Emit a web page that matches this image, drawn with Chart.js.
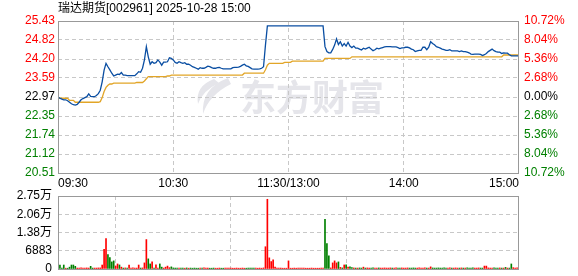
<!DOCTYPE html>
<html>
<head>
<meta charset="utf-8">
<script src="https://cdn.jsdelivr.net/npm/chart.js@4/dist/chart.umd.min.js"></script>
<style>
  body { margin: 0; background: #fff; }
  #wrap { position: relative; width: 578px; height: 276px; }
  #priceBox { position: absolute; left: 0; top: 0; width: 578px; height: 189px; }
  #volBox { position: absolute; left: 0; top: 189px; width: 578px; height: 87px; }
</style>
</head>
<body>
<div id="wrap">
  <div id="priceBox"><canvas id="priceChart"></canvas></div>
  <div id="volBox"><canvas id="volChart"></canvas></div>
</div>
<script>
const title = '瑞达期货[002961] 2025-10-28 15:00';
const prevClose = 22.97;

const timeTicks = [0, 60, 120, 180, 240];
const timeLabels = ['09:30', '10:30', '11:30/13:00', '14:00', '15:00'];

const priceTicks = [20.51, 21.12, 21.74, 22.35, 22.97, 23.59, 24.20, 24.82, 25.43];
const pctLabels = ['10.72%', '8.04%', '5.36%', '2.68%', '0.00%', '2.68%', '5.36%', '8.04%', '10.72%'];

const volTicks = [0, 6883, 13766, 20649, 27532];
const volLabels = ['0', '6883', '1.38万', '2.06万', '2.75万'];

// one value per minute, 09:30 .. 15:00
const price = [
  22.97, 22.93, 22.90, 22.88, 22.88, 22.85, 22.80, 22.75, 22.72, 22.71,
  22.73, 22.80, 22.88, 22.92, 22.95, 22.98, 23.07, 22.99, 22.98, 22.98,
  23.02, 23.08, 23.19, 23.46, 23.84, 24.06, 23.95, 23.85, 23.74, 23.65,
  23.68, 23.71, 23.70, 23.76, 23.68, 23.68, 23.66, 23.66, 23.66, 23.66,
  23.66, 23.72, 23.79, 23.77, 23.90, 24.17, 24.60, 24.27, 24.03, 24.11,
  24.06, 24.08, 24.17, 24.10, 24.00, 24.10, 24.10, 24.11, 24.24, 24.22,
  24.17, 24.09, 24.06, 24.11, 24.08, 24.06, 24.08, 24.03, 24.03, 24.00,
  23.95, 23.93, 23.90, 23.87, 23.92, 23.90, 23.90, 23.93, 23.97, 23.95,
  23.92, 23.90, 23.90, 23.92, 23.93, 23.90, 23.88, 23.88, 23.88, 23.88,
  23.88, 23.92, 23.93, 23.93, 23.94, 23.96, 24.00, 24.03, 23.98, 23.96,
  23.92, 23.88, 23.87, 23.87, 23.87, 23.88, 23.90, 23.95, 24.65, 25.27,
  25.27, 25.27, 25.27, 25.27, 25.27, 25.27, 25.27, 25.27, 25.27, 25.27,
  25.27, 25.27, 25.27, 25.27, 25.27, 25.27, 25.27, 25.27, 25.27, 25.27,
  25.27, 25.27, 25.27, 25.27, 25.27, 25.27, 25.27, 25.27, 25.27,
  24.60, 24.44, 24.40, 24.40, 24.51, 24.65, 24.85, 24.67, 24.76, 24.62,
  24.70, 24.62, 24.74, 24.62, 24.57, 24.62, 24.55, 24.55, 24.52, 24.49,
  24.55, 24.52, 24.55, 24.58, 24.52, 24.47, 24.50, 24.55, 24.53, 24.55,
  24.57, 24.59, 24.60, 24.60, 24.60, 24.59, 24.59, 24.59, 24.57, 24.54,
  24.56, 24.56, 24.58, 24.58, 24.56, 24.52, 24.50, 24.44, 24.46, 24.48,
  24.48, 24.58, 24.58, 24.50, 24.58, 24.76, 24.70, 24.66, 24.60, 24.58,
  24.55, 24.52, 24.50, 24.48, 24.48, 24.50, 24.46, 24.46, 24.46, 24.46,
  24.44, 24.46, 24.44, 24.44, 24.42, 24.40, 24.36, 24.35, 24.36, 24.36,
  24.36, 24.35, 24.31, 24.34, 24.38, 24.44, 24.48, 24.52, 24.47, 24.44,
  24.42, 24.42, 24.38, 24.40, 24.39, 24.39, 24.34, 24.30, 24.30, 24.30,
  24.30, 24.30
];

const avgPrice = [
  22.93, 22.93, 22.93, 22.93, 22.93, 22.93, 22.86, 22.86, 22.86, 22.80,
  22.80, 22.80, 22.80, 22.80, 22.80, 22.80, 22.80, 22.80, 22.80, 22.80,
  22.80, 22.80, 22.82, 22.95, 23.15, 23.28, 23.35, 23.39, 23.39, 23.42,
  23.42, 23.42, 23.42, 23.42, 23.42, 23.42, 23.42, 23.42, 23.42, 23.42,
  23.42, 23.44, 23.44, 23.44, 23.44, 23.49, 23.56, 23.63, 23.63, 23.63,
  23.63, 23.63, 23.63, 23.63, 23.63, 23.63, 23.63, 23.65, 23.65, 23.68,
  23.68, 23.68, 23.68, 23.68, 23.68, 23.68, 23.68, 23.68, 23.68, 23.68,
  23.68, 23.68, 23.68, 23.68, 23.68, 23.68, 23.68, 23.68, 23.68, 23.68,
  23.68, 23.68, 23.68, 23.68, 23.68, 23.68, 23.68, 23.68, 23.68, 23.68,
  23.68, 23.68, 23.68, 23.68, 23.68, 23.68, 23.68, 23.74, 23.74, 23.74,
  23.74, 23.74, 23.74, 23.74, 23.74, 23.74, 23.74, 23.74, 23.85, 24.00,
  24.06, 24.06, 24.06, 24.06, 24.06, 24.06, 24.06, 24.06, 24.09, 24.09,
  24.09, 24.09, 24.13, 24.13, 24.13, 24.13, 24.13, 24.13, 24.13, 24.13,
  24.13, 24.13, 24.13, 24.13, 24.13, 24.13, 24.13, 24.13, 24.13, 24.22,
  24.22, 24.22, 24.22, 24.22, 24.22, 24.22, 24.22, 24.22, 24.22, 24.22,
  24.22, 24.22, 24.22, 24.27, 24.27, 24.27, 24.27, 24.27, 24.27, 24.27,
  24.27, 24.27, 24.27, 24.27, 24.27, 24.27, 24.27, 24.27, 24.27, 24.27,
  24.27, 24.27, 24.27, 24.27, 24.27, 24.27, 24.27, 24.27, 24.27, 24.27,
  24.27, 24.27, 24.27, 24.27, 24.27, 24.27, 24.27, 24.27, 24.27, 24.27,
  24.27, 24.27, 24.27, 24.27, 24.27, 24.27, 24.27, 24.27, 24.27, 24.27,
  24.27, 24.27, 24.27, 24.27, 24.27, 24.27, 24.27, 24.27, 24.27, 24.27,
  24.27, 24.27, 24.27, 24.27, 24.27, 24.27, 24.27, 24.27, 24.27, 24.27,
  24.27, 24.27, 24.27, 24.27, 24.27, 24.27, 24.27, 24.27, 24.27, 24.27,
  24.27, 24.27, 24.33, 24.33, 24.33, 24.33, 24.33, 24.33, 24.33, 24.33,
  24.33
];

const volume = [
  800, 1500, 300, 1500, 300, 300, 700, 1500, 1500, 1000,
  350, 350, 400, 350, 350, 400, 350, 1000, 350, 350,
  350, 400, 400, 1500, 7400, 11470, 5480, 4330, 2680, 3060,
  1150, 1910, 1530, 700, 350, 400, 350, 1500, 350, 400,
  350, 350, 1500, 350, 400, 2300, 11100, 3820, 1910, 2680,
  350, 1530, 350, 1910, 700, 350, 700, 1100, 500, 800,
  400, 350, 300, 350, 300, 350, 300, 400, 300, 350,
  300, 350, 300, 300, 350, 300, 400, 300, 350, 300,
  300, 350, 300, 300, 350, 300, 300, 350, 300, 300,
  350, 300, 300, 350, 300, 300, 350, 300, 300, 350,
  300, 300, 350, 300, 300, 350, 300, 400, 8400, 26300,
  4200, 2800, 3440, 700, 300, 300, 350, 300, 300, 300,
  3060, 300, 300, 350, 300, 300, 300, 300, 350, 300,
  300, 300, 350, 300, 300, 300, 300, 350, 300, 18700,
  9550, 4970, 400, 2300, 3060, 2300, 2680, 600, 400, 1530,
  1530, 700, 800, 500, 400, 350, 350, 400, 350, 700,
  350, 400, 350, 350, 400, 350, 350, 400, 350, 350,
  400, 350, 350, 400, 350, 350, 400, 350, 350, 400,
  350, 350, 400, 350, 350, 400, 350, 350, 400, 350,
  350, 400, 350, 350, 800, 400, 350, 350, 400, 350,
  350, 400, 350, 350, 400, 350, 350, 400, 350, 350,
  400, 350, 350, 400, 350, 350, 400, 350, 350, 400,
  350, 350, 1100, 1100, 400, 350, 350, 400, 350, 350,
  400, 350, 350, 600, 350, 350, 1900, 500, 350, 400,
  2300
];

const RED = '#ff0000';
const GREEN = '#008000';
const GRID = '#c8c8c8';
const font = { family: "'Liberation Sans', 'Noto Sans CJK SC', sans-serif", size: 12 };

const upDownColor = (v) => v > prevClose + 1e-6 ? RED : (v < prevClose - 1e-6 ? GREEN : '#000');

// red when the minute closed at or above the previous one
const volColors = volume.map((v, i) => {
  const before = i === 0 ? prevClose : price[i - 1];
  return price[i] >= before ? RED : GREEN;
});

const innerGrid = (ctx) => (ctx.index === 0 || ctx.index === timeTicks.length - 1) ? 'transparent' : GRID;

const frame = {
  id: 'frame',
  afterDraw(chart) {
    const { ctx, chartArea: a } = chart;
    ctx.save();
    ctx.strokeStyle = '#999';
    ctx.lineWidth = 1;
    ctx.strokeRect(Math.round(a.left) + 0.5, Math.round(a.top) + 0.5,
      Math.round(a.right - a.left) - 1, Math.round(a.bottom - a.top));
    ctx.restore();
  }
};

const watermark = {
  id: 'watermark',
  beforeDraw(chart) {
    const ctx = chart.ctx;
    ctx.save();
    ctx.fillStyle = '#e5e5ea';
    ctx.beginPath();
    ctx.moveTo(228, 78);
    ctx.quadraticCurveTo(201, 88, 203, 114);
    ctx.quadraticCurveTo(209, 95, 231, 84);
    ctx.closePath();
    ctx.fill();
    ctx.beginPath();
    ctx.moveTo(214, 79);
    ctx.quadraticCurveTo(195, 86, 198, 104);
    ctx.quadraticCurveTo(202, 91, 219, 83);
    ctx.closePath();
    ctx.fill();
    ctx.font = "bold 36px 'Noto Sans CJK SC'";
    ctx.textBaseline = 'middle';
    ctx.fillText('东方财富', 240, 97);
    ctx.restore();
  }
};

const heading = {
  id: 'heading',
  afterDraw(chart) {
    const ctx = chart.ctx;
    ctx.save();
    ctx.fillStyle = '#000';
    ctx.font = "12px 'Liberation Sans', 'Noto Sans CJK SC'";
    ctx.textBaseline = 'middle';
    ctx.fillText(title, 58, 9);
    ctx.restore();
  }
};

new Chart(document.getElementById('priceChart'), {
  type: 'line',
  data: {
    datasets: [{
      data: price.map((v, i) => ({ x: i, y: v })),
      borderColor: '#0a4ea2',
      borderWidth: 1.3,
      pointRadius: 0
    }, {
      data: avgPrice.map((v, i) => ({ x: i, y: v })),
      borderColor: '#e2a527',
      borderWidth: 1.3,
      pointRadius: 0
    }]
  },
  options: {
    responsive: true,
    maintainAspectRatio: false,
    animation: false,
    layout: { padding: { top: 21 } },
    plugins: { legend: { display: false }, tooltip: { enabled: false } },
    scales: {
      x: {
        type: 'linear', min: 0, max: 240,
        afterBuildTicks: (s) => { s.ticks = timeTicks.map((v) => ({ value: v })); },
        afterFit: (s) => { s.height = 16; },
        ticks: { callback: (v, i) => timeLabels[i], align: 'inner', maxRotation: 0, autoSkip: false, padding: 3, color: '#000', font },
        grid: { color: innerGrid, drawTicks: false },
        border: { display: false, dash: [4, 3] }
      },
      y: {
        position: 'left', min: 20.51, max: 25.43,
        afterBuildTicks: (s) => { s.ticks = priceTicks.map((v) => ({ value: v })); },
        afterFit: (s) => { s.width = 58; },
        ticks: { callback: (v) => v.toFixed(2), color: (c) => upDownColor(c.tick.value), autoSkip: false, padding: 3, font },
        grid: { color: GRID, drawTicks: false },
        border: { display: false, dash: [4, 3] }
      },
      y2: {
        position: 'right', min: 20.51, max: 25.43,
        afterBuildTicks: (s) => { s.ticks = priceTicks.map((v) => ({ value: v })); },
        afterFit: (s) => { s.width = 59; },
        ticks: { callback: (v, i) => pctLabels[i], color: (c) => upDownColor(c.tick.value), autoSkip: false, padding: 5, font },
        grid: { display: false, drawTicks: false },
        border: { display: false }
      }
    }
  },
  plugins: [watermark, frame, heading]
});

new Chart(document.getElementById('volChart'), {
  type: 'bar',
  data: {
    datasets: [{
      data: volume.map((v, i) => ({ x: i, y: v })),
      backgroundColor: volColors,
      barThickness: 1,
      borderWidth: 0
    }]
  },
  options: {
    responsive: true,
    maintainAspectRatio: false,
    animation: false,
    layout: { padding: { top: 0, right: 59, bottom: 0 } },
    plugins: { legend: { display: false }, tooltip: { enabled: false } },
    scales: {
      x: {
        type: 'linear', min: 0, max: 240, offset: false,
        afterBuildTicks: (s) => { s.ticks = timeTicks.map((v) => ({ value: v })); },
        afterFit: (s) => { s.height = 0; },
        ticks: { display: false },
        grid: { color: innerGrid, drawTicks: false },
        border: { display: false, dash: [4, 3] }
      },
      y: {
        min: 0, max: 27532,
        afterBuildTicks: (s) => { s.ticks = volTicks.map((v) => ({ value: v })); },
        // the panel sits 7px inside its canvas at top and bottom
        afterFit: (s) => { s.width = 58; s.paddingTop = 7; s.paddingBottom = 7; },
        ticks: { callback: (v, i) => volLabels[i], color: '#000', autoSkip: false, padding: 6, font },
        grid: { color: GRID, drawTicks: false },
        border: { display: false, dash: [4, 3] }
      }
    }
  },
  plugins: [frame]
});
</script>
</body>
</html>
